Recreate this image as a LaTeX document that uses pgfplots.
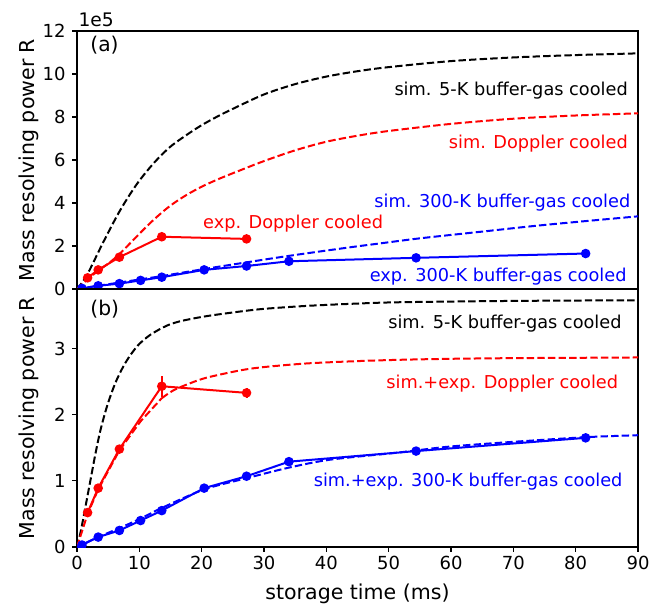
\documentclass[border=0pt]{standalone}
\usepackage{fontspec}
\setmainfont{DejaVu Sans}
\usepackage{pgfplots}
\pgfplotsset{compat=1.18}
\newcommand{\annfont}{\fontsize{13.3}{16}\selectfont}
\newcommand{\tickfont}{\fontsize{13.5}{16}\selectfont}
\newcommand{\labfont}{\fontsize{15.4}{18}\selectfont}
\newcommand{\panfont}{\fontsize{15.2}{18}\selectfont}
\begin{document}
\begin{tikzpicture}
\useasboundingbox (-57.75pt,-236.25pt) rectangle (441.75pt,216.75pt);
\pgfplotsset{
  mystyle/.style={
    scale only axis, width=420.75pt, height=193.5pt,
    xmin=0, xmax=90, ymin=0,
    axis line style={line width=0.8pt},
    tick align=outside, major tick length=3.5pt,
    tick style={line width=0.8pt, black},
    xtick pos=left, ytick pos=left,
    ticklabel style={font=\tickfont},
    yticklabel style={xshift=-1.5pt},
    /pgf/number format/assume math mode=true,
    scaled ticks=false,
    clip mode=individual, clip marker paths=true,
    every axis y label/.style={at={(axis description cs:-0.0856,0.5)},rotate=90,anchor=center,font=\labfont},
    every axis x label/.style={at={(axis description cs:0.5,-0.18)},anchor=center,font=\labfont},
  },
  sim/.style={line width=1.5pt, dash pattern=on 5.55pt off 2.4pt},
  expr/.style={line width=1.5pt, solid, mark=*, mark size=2.8pt},
}
% ---------------- (a) ----------------
\begin{axis}[mystyle, at={(0,0)}, anchor=south west,
  ymax=12, ytick={0,2,4,6,8,10,12}, xtick=\empty,
  ylabel={Mass resolving power R}]
\addplot[sim, black, smooth] coordinates {(0,0) (1.55,0.62) (4.2,2.17) (6.9,3.65) (9.6,4.88) (12.3,5.85) (14.9,6.6) (17.6,7.17) (20,7.62) (22.5,8.02) (25,8.38) (30,9.05) (35,9.53) (40,9.88) (45,10.13) (50,10.32) (60,10.6) (70,10.77) (80,10.88) (90,10.96)};
\addplot[sim, red, smooth] coordinates {(0,0) (1.7,0.45) (3.4,0.85) (5.1,1.2) (6.9,1.65) (9.6,2.45) (12.3,3.22) (14.9,3.86) (17.6,4.38) (20.3,4.8) (23,5.15) (26,5.5) (30,5.95) (35,6.45) (40,6.85) (45,7.13) (50,7.35) (60,7.68) (70,7.92) (80,8.07) (90,8.17)};
\addplot[sim, blue, smooth] coordinates {(0,0) (3.4,0.15) (6.8,0.3) (10.2,0.45) (13.6,0.6) (16.5,0.74) (20.4,0.93) (27.2,1.24) (34.2,1.55) (43.3,1.92) (48.6,2.12) (55.1,2.36) (65,2.67) (75,2.98) (90,3.38)};
\addplot[expr, red, mark options={fill=red, draw=red}] coordinates {(1.7,0.52) (3.4,0.89) (6.8,1.48) (13.6,2.43) (27.2,2.33)};
\addplot[expr, blue, mark options={fill=blue, draw=blue}] coordinates {(0.8,0.03) (3.4,0.15) (6.8,0.25) (10.2,0.40) (13.6,0.55) (20.4,0.89) (27.2,1.07) (34,1.29) (54.4,1.45) (81.6,1.65)};
\node[anchor=west, inner sep=0, font=\fontsize{14}{16}\selectfont] at (axis cs:0.2,12.51) {1e5};
\node[anchor=west, inner sep=0, font=\panfont] at (axis cs:2.1,11.36) {(a)};
\node[anchor=east, inner sep=0, font=\annfont, text=black] at (axis cs:88.4,9.22) {sim. 5-K buffer-gas cooled};
\node[anchor=east, inner sep=0, font=\annfont, text=red] at (axis cs:88.4,6.74) {sim. Doppler cooled};
\node[anchor=east, inner sep=0, font=\annfont, text=blue] at (axis cs:88.8,4.03) {sim. 300-K buffer-gas cooled};
\node[anchor=east, inner sep=0, font=\annfont, text=blue] at (axis cs:88.2,0.57) {exp. 300-K buffer-gas cooled};
\node[anchor=west, inner sep=0, font=\annfont, text=red] at (axis cs:20.2,3.02) {exp. Doppler cooled};
\end{axis}
% ---------------- (b) ----------------
\begin{axis}[mystyle, at={(0,0)}, anchor=north west,
  ymax=3.9, ytick={0,1,2,3}, xtick={0,10,20,30,40,50,60,70,80,90},
  xlabel={storage time (ms)}, ylabel={Mass resolving power R}]
\addplot[sim, black, smooth] coordinates {(0,0) (0.59,0.23) (1.4,0.63) (2.2,1.03) (3.0,1.43) (3.8,1.78) (4.86,2.14) (6.2,2.49) (7.8,2.79) (9.7,3.04) (11.8,3.21) (14.5,3.35) (16.9,3.42) (20.8,3.49) (26.2,3.56) (30,3.6) (36.9,3.645) (45,3.68) (51.8,3.70) (70,3.72) (90,3.73)};
\addplot[sim, red] coordinates {(0,0) (1.7,0.5) (3.4,0.87) (6.8,1.46) (10.2,1.9) (13.6,2.25)};
\addplot[sim, red, smooth] coordinates {(13.6,2.25) (15.5,2.37) (18,2.47) (20.8,2.56) (26.2,2.67) (30,2.72) (36.9,2.775) (45,2.81) (51.8,2.83) (60,2.845) (70,2.855) (80,2.86) (90,2.865)};
\addplot[sim, blue, smooth] coordinates {(0,0) (3.4,0.15) (6.8,0.285) (10.2,0.43) (13.6,0.59) (20.4,0.87) (27.2,1.04) (34,1.2) (40.6,1.32) (50.8,1.42) (54.4,1.46) (60,1.52) (70,1.59) (81.6,1.66) (90,1.69)};
\addplot[expr, red, mark options={fill=red, draw=red},
  error bars/.cd, y dir=both, y explicit, error mark=none,
  error bar style={line width=1.5pt, red}] coordinates {
  (1.7,0.52) +- (0,0.04) (3.4,0.89) +- (0,0.04) (6.8,1.48) +- (0,0.05) (13.6,2.43) +- (0,0.16) (27.2,2.33) +- (0,0.08)};
\addplot[expr, blue, mark options={fill=blue, draw=blue},
  error bars/.cd, y dir=both, y explicit, error mark=none,
  error bar style={line width=1.5pt, blue}] coordinates {
  (0.8,0.03) +- (0,0.01) (3.4,0.15) +- (0,0.01) (6.8,0.25) +- (0,0.01) (10.2,0.40) +- (0,0.01) (13.6,0.55) +- (0,0.01) (20.4,0.89) +- (0,0.02) (27.2,1.07) +- (0,0.02) (34,1.29) +- (0,0.02) (54.4,1.45) +- (0,0.04) (81.6,1.65) +- (0,0.04)};
\node[anchor=west, inner sep=0, font=\panfont] at (axis cs:2.1,3.59) {(b)};
\node[anchor=east, inner sep=0, font=\annfont, text=black] at (axis cs:87.4,3.377) {sim. 5-K buffer-gas cooled};
\node[anchor=east, inner sep=0, font=\annfont, text=red] at (axis cs:86.85,2.47) {sim.+exp. Doppler cooled};
\node[anchor=east, inner sep=0, font=\annfont, text=blue] at (axis cs:87.55,0.985) {sim.+exp. 300-K buffer-gas cooled};
\end{axis}
\end{tikzpicture}
\end{document}
